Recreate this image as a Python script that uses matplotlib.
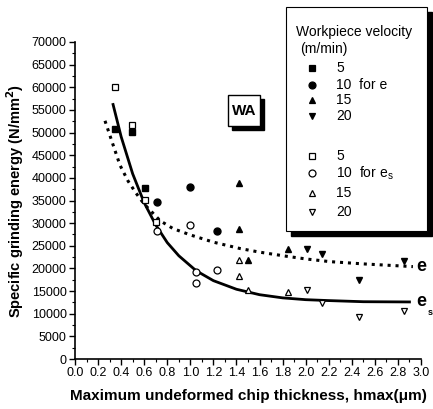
import matplotlib
matplotlib.use("Agg")
import matplotlib.pyplot as plt
from matplotlib.patches import Rectangle
from matplotlib.lines import Line2D

plt.rcParams['font.family'] = ['Liberation Sans', 'DejaVu Sans']

# ---- data: specific grinding energy e (filled) ----
e5_x = [0.35, 0.49, 0.61]
e5_y = [50700, 50200, 37800]
e10_x = [0.71, 1.00, 1.23]
e10_y = [34600, 37900, 28300]
e15_x = [1.42, 1.42, 1.50, 1.85]
e15_y = [38900, 28800, 21900, 24400]
e20_x = [2.01, 2.14, 2.46, 2.85]
e20_y = [24200, 23200, 17400, 21700]

# ---- data: e_s (open) ----
s5_x = [0.35, 0.49, 0.61, 0.70]
s5_y = [60000, 51600, 35100, 30200]
s10_x = [0.71, 1.00, 1.05, 1.05, 1.23]
s10_y = [28300, 29500, 19300, 16800, 19600]
s15_x = [1.42, 1.42, 1.50, 1.85]
s15_y = [21900, 18300, 15200, 14900]
s20_x = [2.01, 2.14, 2.46, 2.85]
s20_y = [15200, 12300, 9200, 10600]

# ---- fitted curves ----
fit_e_x = [0.26, 0.33, 0.39, 0.46, 0.53, 0.60, 0.74, 0.85, 1.00, 1.20, 1.43,
           1.60, 1.83, 2.00, 2.21, 2.50, 2.93]
fit_e_y = [52600, 47300, 42800, 39300, 36600, 34200, 30500, 28800, 27400, 25800,
           24400, 23600, 22700, 22100, 21500, 21000, 20400]
fit_s_x = [0.33, 0.40, 0.50, 0.60, 0.70, 0.80, 0.90, 1.05, 1.20, 1.40, 1.60,
           1.80, 2.00, 2.20, 2.50, 2.90]
fit_s_y = [56200, 49100, 40900, 34500, 29600, 25700, 22800, 19500, 17300, 15400,
           14200, 13500, 13100, 12900, 12650, 12600]

x_ticks = [0.0, 0.2, 0.4, 0.6, 0.8, 1.0, 1.2, 1.4, 1.6, 1.8, 2.0, 2.2, 2.4, 2.6, 2.8, 3.0]
y_ticks = list(range(0, 70001, 5000))

W, H = 433, 409
fig = plt.figure(figsize=(W / 100, H / 100), dpi=100)
ax = fig.add_axes([75 / W, 1 - 359 / H, (421 - 75) / W, (359 - 42) / H])

ax.plot(fit_s_x, fit_s_y, '-', color='black', lw=2.0, zorder=2)
ax.plot(fit_e_x, fit_e_y, ':', color='black', lw=2.2, dashes=(1, 1.6), zorder=2)

ms = 5
kw_f = dict(color='black', linestyle='none', markersize=ms, zorder=3)
ax.plot(e5_x, e5_y, marker='s', **kw_f)
ax.plot(e10_x, e10_y, marker='o', **kw_f)
ax.plot(e15_x, e15_y, marker='^', **kw_f)
ax.plot(e20_x, e20_y, marker='v', **kw_f)
kw_o = dict(color='black', markerfacecolor='white', linestyle='none', markersize=ms,
            markeredgewidth=0.9, zorder=3)
ax.plot(s5_x, s5_y, marker='s', **kw_o)
ax.plot(s10_x, s10_y, marker='o', **kw_o)
ax.plot(s15_x, s15_y, marker='^', **kw_o)
ax.plot(s20_x, s20_y, marker='v', **kw_o)

ax.set_xlim(0, 3.0)
ax.set_ylim(0, 70000)
ax.set_xticks(x_ticks)
ax.set_xticklabels([f"{v:.1f}" for v in x_ticks])
ax.set_yticks(y_ticks)
ax.set_yticklabels([str(v) for v in y_ticks])
ax.set_xticks([v / 10 for v in range(1, 30, 2)], minor=True)
ax.set_yticks(list(range(2500, 70000, 5000)), minor=True)
ax.tick_params(which='major', direction='out', length=4, width=1.0, labelsize=9, pad=2)
ax.tick_params(which='minor', direction='out', length=2.5, width=0.8)
for s in ('top', 'right'):
    ax.spines[s].set_visible(False)
for s in ('left', 'bottom'):
    ax.spines[s].set_linewidth(1.2)

ax.set_xlabel('Maximum undeformed chip thickness, hmax(\u03bcm)', fontsize=11,
              fontweight='bold', labelpad=7)
ax.set_ylabel('Specific grinding energy (N/mm$^\\mathbf{2}$)', fontsize=10.5,
              fontweight='bold', labelpad=4)

# curve labels
ax.text(2.955, 20400, 'e', fontsize=13, fontweight='bold', ha='left', va='center',
        clip_on=False)
ax.text(2.955, 12600, 'e', fontsize=13, fontweight='bold', ha='left', va='center',
        clip_on=False)
ax.text(3.055, 10300, 's', fontsize=6.5, fontweight='bold', ha='left', va='center',
        clip_on=False)

def fx(px):
    return px / W

def fy(py):
    return 1 - py / H

# WA box
fig.add_artist(Rectangle((fx(232), fy(130)), 32 / W, 31 / H, transform=fig.transFigure,
                         facecolor='black', edgecolor='black', zorder=5))
fig.add_artist(Rectangle((fx(228), fy(126)), 32 / W, 31 / H, transform=fig.transFigure,
                         facecolor='white', edgecolor='black', lw=1.0, zorder=6))
fig.text(fx(244), fy(111), 'WA', fontsize=11, fontweight='bold', ha='center',
         va='center', zorder=7)

# legend box
lx0, ly0, lx1, ly1 = 286, 7, 427, 231
fig.add_artist(Rectangle((fx(lx0 + 5), fy(ly1 + 5)), (lx1 - lx0) / W, (ly1 - ly0) / H,
                         transform=fig.transFigure, facecolor='black', edgecolor='black',
                         zorder=5))
fig.add_artist(Rectangle((fx(lx0), fy(ly1)), (lx1 - lx0) / W, (ly1 - ly0) / H,
                         transform=fig.transFigure, facecolor='white', edgecolor='black',
                         lw=0.8, zorder=6))
fig.text(fx(296), fy(32), 'Workpiece velocity', fontsize=10, ha='left', va='center', zorder=7)
fig.text(fx(300), fy(49), '(m/min)', fontsize=10, ha='left', va='center', zorder=7)

leg_rows = [
    ('s', True, '5', 68),
    ('o', True, '10  for e', 85),
    ('^', True, '15', 100),
    ('v', True, '20', 116),
    ('s', False, '5', 156),
    ('o', False, '10  for e$_\\mathregular{s}$', 173),
    ('^', False, '15', 193),
    ('v', False, '20', 212),
]
for m, filled, label, py in leg_rows:
    fig.add_artist(Line2D([fx(311.5)], [fy(py)], transform=fig.transFigure, marker=m,
                          markersize=ms, color='black',
                          markerfacecolor='black' if filled else 'white',
                          markeredgewidth=0.9, linestyle='none', zorder=7))
    fig.text(fx(336), fy(py), label, fontsize=10, ha='left', va='center', zorder=7)

fig.savefig('out.png', dpi=100)
